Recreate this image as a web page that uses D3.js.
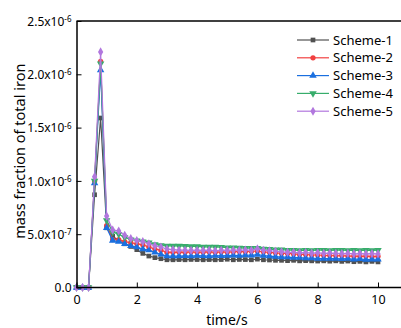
<!DOCTYPE html>
<html>
<head>
<meta charset="utf-8">
<script src="https://cdn.jsdelivr.net/npm/d3@7"></script>
<style>
  body { margin: 0; background: #fff; }
  svg { display: block; font-family: "Noto Sans", "Open Sans", sans-serif; }
</style>
</head>
<body>
<svg id="chart" width="401" height="328"></svg>
<script>
// time points (s)
const times = [0, 0.2, 0.4, 0.6, 0.8, 1.0, 1.2, 1.4, 1.6, 1.8, 2.0, 2.2, 2.4, 2.6, 2.8, 3.0,
  3.2, 3.4, 3.6, 3.8, 4.0, 4.2, 4.4, 4.6, 4.8, 5.0, 5.2, 5.4, 5.6, 5.8, 6.0,
  6.2, 6.4, 6.6, 6.8, 7.0, 7.2, 7.4, 7.6, 7.8, 8.0, 8.2, 8.4, 8.6, 8.8, 9.0, 9.2, 9.4, 9.6, 9.8, 10.0];

// values in units of 1e-7
const scheme1 = [0, 0, 0, 8.7, 15.9, 5.6, 4.8, 4.4, 4.1, 3.85, 3.55, 3.2, 2.95, 2.8, 2.7, 2.6,
  2.6, 2.62, 2.6, 2.63, 2.62, 2.6, 2.62, 2.6, 2.62, 2.65, 2.6, 2.63, 2.62, 2.6, 2.66,
  2.6, 2.58, 2.55, 2.55, 2.52, 2.55, 2.5, 2.52, 2.5, 2.48, 2.5, 2.47, 2.5, 2.45, 2.48, 2.42, 2.45, 2.4, 2.45, 2.4];
const scheme2 = [0, 0, 0, 10.0, 21.2, 5.8, 4.5, 4.5, 4.3, 4.2, 4.1, 4.0, 3.8, 3.6, 3.5, 3.3,
  3.3, 3.32, 3.3, 3.35, 3.3, 3.32, 3.35, 3.3, 3.35, 3.32, 3.35, 3.38, 3.35, 3.4, 3.42,
  3.35, 3.3, 3.25, 3.2, 3.2, 3.15, 3.1, 3.1, 3.05, 3.05, 3.0, 3.0, 2.98, 3.0, 2.95, 2.95, 2.92, 2.95, 2.9, 2.92];
const scheme3 = [0, 0, 0, 9.8, 20.4, 5.6, 4.4, 4.3, 4.1, 3.9, 3.8, 3.6, 3.5, 3.3, 3.1, 2.95,
  2.95, 2.95, 2.97, 2.95, 3.0, 2.97, 2.95, 3.0, 2.98, 3.0, 3.02, 3.0, 3.05, 3.02, 3.08,
  3.0, 2.95, 2.9, 2.85, 2.85, 2.8, 2.8, 2.75, 2.75, 2.72, 2.72, 2.7, 2.7, 2.68, 2.7, 2.65, 2.68, 2.62, 2.65, 2.65];
const scheme4 = [0, 0, 0, 10.0, 21.0, 6.3, 5.2, 5.0, 4.7, 4.5, 4.4, 4.3, 4.2, 4.05, 3.95, 3.9,
  3.9, 3.9, 3.88, 3.85, 3.85, 3.82, 3.8, 3.8, 3.78, 3.75, 3.75, 3.72, 3.7, 3.7, 3.68,
  3.62, 3.6, 3.55, 3.55, 3.5, 3.5, 3.48, 3.5, 3.48, 3.5, 3.5, 3.48, 3.5, 3.5, 3.48, 3.5, 3.48, 3.5, 3.48, 3.5];
const scheme5 = [0, 0, 0, 10.4, 22.1, 6.7, 5.4, 5.3, 4.9, 4.6, 4.4, 4.3, 4.1, 3.9, 3.8, 3.6,
  3.55, 3.5, 3.5, 3.48, 3.5, 3.48, 3.5, 3.45, 3.5, 3.48, 3.5, 3.5, 3.52, 3.5, 3.62,
  3.5, 3.45, 3.4, 3.35, 3.3, 3.3, 3.25, 3.28, 3.22, 3.25, 3.2, 3.22, 3.2, 3.18, 3.2, 3.15, 3.18, 3.15, 3.18, 3.15];

const seriesNames = ["Scheme-1", "Scheme-2", "Scheme-3", "Scheme-4", "Scheme-5"];
const xTicks = [0, 2, 4, 6, 8, 10];
const yTicks = [0, 5, 10, 15, 20, 25];
const yTickMant = ["0.0", "5.0", "1.0", "1.5", "2.0", "2.5"];
const yTickExp = ["", "-7", "-6", "-6", "-6", "-6"];

const colors = ["#515151", "#F14040", "#1A6FDF", "#37AD6B", "#B177DE"];
const symbols = [d3.symbolSquare, d3.symbolCircle, d3.symbolTriangle, d3.symbolTriangle, d3.symbolDiamond];
const symRotate = [0, 0, 0, 180, 0];
const symSize = [22, 22, 24, 24, 24];

const svg = d3.select("#chart");
const mLeft = 76.5, mTop = 21, mBottom = 287.5;

const x = d3.scaleLinear().domain([0, 10]).range([mLeft, 378]);
const y = d3.scaleLinear().domain([0, 25]).range([mBottom, mTop]);

const allSeries = [scheme1, scheme2, scheme3, scheme4, scheme5].map((vals, i) => ({
    name: seriesNames[i],
    color: colors[i],
    i: i,
    points: vals.map((v, j) => ({t: times[j], v: v}))
}));

// frame: top line
svg.append("line")
    .attr("x1", mLeft).attr("x2", 401)
    .attr("y1", mTop).attr("y2", mTop)
    .attr("stroke", "#000").attr("stroke-width", 1.5);

// data
const line = d3.line().x(d => x(d.t)).y(d => y(d.v));
const g = svg.append("g");
allSeries.forEach(s => {
    const sg = g.append("g");
    sg.append("path")
        .attr("d", line(s.points))
        .attr("fill", "none")
        .attr("stroke", s.color)
        .attr("stroke-width", 1.2);
    sg.selectAll("path.m")
        .data(s.points)
        .enter().append("path")
        .attr("class", "m")
        .attr("d", d3.symbol().type(symbols[s.i]).size(symSize[s.i]))
        .attr("transform", d => `translate(${x(d.t)},${y(d.v)}) rotate(${symRotate[s.i]})`)
        .attr("fill", s.color);
});

// x axis
const xAxis = svg.append("g")
    .attr("transform", `translate(0,${mBottom})`)
    .call(d3.axisBottom(x).tickValues(xTicks).tickSizeInner(-5).tickSizeOuter(0).tickPadding(8));
xAxis.select(".domain").remove();
xAxis.append("line")
    .attr("x1", mLeft).attr("x2", 401)
    .attr("stroke", "#000").attr("stroke-width", 1.5);
xAxis.selectAll(".tick line").attr("stroke", "#000").attr("stroke-width", 1);
xAxis.selectAll(".tick text")
    .attr("font-size", 12.5).attr("fill", "#000")
    .attr("font-family", "Noto Sans");

// y axis
const yAxis = svg.append("g")
    .attr("transform", `translate(${mLeft},0)`)
    .call(d3.axisLeft(y).tickValues(yTicks).tickSizeInner(-5).tickSizeOuter(0).tickFormat(""));
yAxis.select(".domain").attr("stroke", "#000").attr("stroke-width", 1.5);
yAxis.selectAll(".tick line").attr("stroke", "#000").attr("stroke-width", 1);
yAxis.selectAll(".tick").each(function (d, i) {
    const t = d3.select(this).append("text")
        .attr("x", -5).attr("dy", "0.35em")
        .attr("text-anchor", "end")
        .attr("font-size", 12).attr("fill", "#000")
        .attr("font-family", "Noto Sans");
    if (yTickExp[i]) {
        t.append("tspan").text(yTickMant[i] + "x10");
        t.append("tspan").attr("font-size", 8).attr("dy", "-0.45em").text(yTickExp[i]);
    } else {
        t.text(yTickMant[i]);
    }
});

// axis titles
svg.append("text")
    .attr("x", 227).attr("y", 325)
    .attr("text-anchor", "middle")
    .attr("font-size", 14)
    .text("time/s");

svg.append("text")
    .attr("transform", `translate(25,${(mTop + mBottom) / 2 - 3}) rotate(-90)`)
    .attr("text-anchor", "middle")
    .attr("font-size", 14.5)
    .text("mass fraction of total iron");

// legend
const legend = svg.append("g").attr("transform", "translate(297,40)");
allSeries.forEach((s, i) => {
    const lg = legend.append("g").attr("transform", `translate(0,${i * 17.8})`);
    lg.append("line")
        .attr("x1", 0).attr("x2", 32)
        .attr("stroke", s.color).attr("stroke-width", 1.2);
    lg.append("path")
        .attr("d", d3.symbol().type(symbols[i]).size(symSize[i])())
        .attr("transform", `translate(16,0) rotate(${symRotate[i]})`)
        .attr("fill", s.color);
    lg.append("text")
        .attr("x", 36).attr("dy", "0.35em")
        .attr("font-size", 13)
        .text(s.name);
});
</script>
</body>
</html>
